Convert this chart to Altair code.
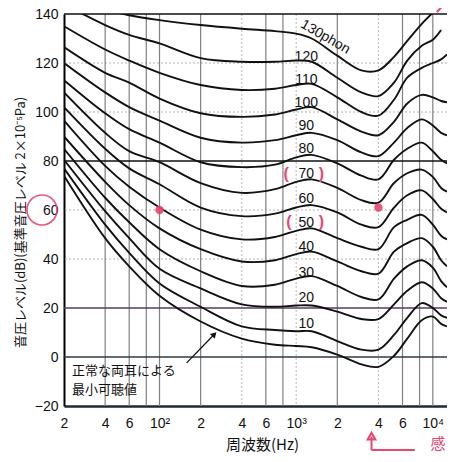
import altair as alt
import pandas as pd

# ---------------- data ----------------
freq = [20, 40, 60, 100, 200, 400, 700, 1000, 1300, 2000, 3000, 4000, 5200, 6500, 8300, 10000, 11500, 12700]

c_maf = [74, 48.5, 37, 25, 14.5, 7.5, 5, 4.5, 4, 1, -3, -4, 0.5, 7.5, 15, 16.5, 13.5, 12.5]
c10 = [77, 54, 42.5, 30, 20.5, 12.5, 11, 10.5, 10.5, 6.5, 3, 3, 9, 16, 22, 20, 17, 16]
c20 = [80.5, 59.5, 48.5, 36, 28, 21.5, 20.5, 21, 21, 18.5, 15.5, 15.5, 21.5, 27, 30.5, 28, 24, 22.5]
c30 = [85, 65, 55, 44, 35, 29, 29.5, 32, 33, 29, 24.5, 23.5, 32, 37, 39.5, 36.5, 31, 28.5]
c40 = [90, 71.5, 62, 52.5, 44, 39, 39.5, 42, 43, 39, 35, 34, 43, 46.5, 48.5, 45, 39.5, 37]
c50 = [96.5, 78, 69.5, 61, 52, 48, 49, 51.5, 52.5, 48.5, 45, 44, 53, 56, 58, 54, 49.5, 48]
c60 = [102, 85, 77, 70.5, 61, 57.5, 58.5, 61, 62, 59, 54, 53, 61, 66, 68, 64.5, 60.5, 59]
c70 = [108, 91.5, 84, 79.5, 71, 67, 68.5, 71.5, 72.5, 69, 64, 63, 71, 75, 76.5, 73.5, 69, 67.5]
c80 = [113, 99.5, 93, 87.5, 79.5, 77.5, 78.5, 81.5, 82.5, 79, 74, 72.5, 80.5, 85, 87.5, 84, 80.5, 79]
c90 = [120, 108, 102, 96.5, 89.5, 87.5, 88.5, 90.5, 91.5, 88.5, 83.5, 82, 87.5, 93.5, 97, 94.5, 91.5, 90.5]
c100 = [126.5, 116, 112, 105.5, 99.5, 98, 99, 101, 102, 97, 92, 90.5, 96, 103.5, 107, 106, 104.5, 104]
c110 = [135, 125.5, 121, 116, 111, 109, 109.5, 111, 111.5, 106, 100, 98.5, 105, 114, 118, 120, 121.5, 123.5]
c120 = [144, 135.5, 131.5, 128, 122, 120.5, 120.5, 121, 120.5, 114, 108, 106.5, 112, 121, 127, 129.5, 133.5, None]
c130 = [None, 142, 139.5, 137.5, 135.5, 134, 133, 132, 130, 123, 117, 117, 122.5, 129, 136, 140.5, None, None]

curves = {"0": c_maf, "10": c10, "20": c20, "30": c30, "40": c40, "50": c50, "60": c60,
          "70": c70, "80": c80, "90": c90, "100": c100, "110": c110, "120": c120, "130": c130}

# curve labels
label_text = ["120", "110", "100", "90", "80", "70", "60", "50", "40", "30", "20", "10"]
label_freq = [1186] * 12
label_db = [122.4, 113, 103.7, 94.3, 84.9, 74.7, 64.5, 54.7, 44.9, 34.3, 24.1, 13.5]
top_label = ["130phon"]
top_label_freq = [1633]
top_label_db = [130.6]

# axis ticks
x_tick_vals = [20, 40, 60, 100, 200, 400, 600, 1000, 2000, 4000, 6000, 10000]
x_tick_text = ["2", "4", "6", "10²", "2", "4", "6", "10³", "2", "4", "6", "10⁴"]
y_tick_vals = [-20, 0, 20, 40, 60, 80, 100, 120, 140]

# grid lines
v_solid = [40, 60, 80, 100, 200, 600, 800, 2000, 6000, 8000, 10000]
v_dotted = [400, 1000, 4000]
h_dotted = [120, 100, 60, 40]
h_black = [80, 140]
h_purple = [20]
h_slate = [0]

# annotation
note_lines = ["正常な両耳による", "最小可聴値"]
note_pos = (22.9, -5.6)
arrow_from = (158, -2.4)
arrow_to = (252, 9.3)

# handwritten red marks on the scan
red_dot_freq = [100, 4000]
red_dot_db = [60, 61]
red_paren_text = ["(", ")", "(", ")"]
red_paren_freq = [844, 1528, 886, 1528]
red_paren_db = [74.7, 74.7, 55.1, 55.1]
red_circle_freq = [13.8]
red_circle_db = [60]
red_stroke_f = [3560, 3560, 10690]
red_stroke_db = [-32.5, -38.0, 140.8]
red_stroke_f2 = [3560, 7380, 12700]
red_stroke_db2 = [-38.0, -38.0, 145.0]
red_head = (3560, -32.3)
red_char = ["感"]
red_char_pos = (10900, -35.4)

# ---------------- chart ----------------
label_expr = " : ".join(f"datum.value == {v} ? '{t}'" for v, t in zip(x_tick_vals, x_tick_text)) + " : ''"

X_SCALE = alt.Scale(type="log", domain=[20, 12700])
Y_SCALE = alt.Scale(domain=[-20, 140], nice=False)
X_AXIS = alt.Axis(values=x_tick_vals, labelExpr=label_expr, grid=False, ticks=False,
                  labelFont="Liberation Sans", labelFontSize=14, labelColor="#111",
                  labelPadding=10, labelFlush=False, labelOverlap=False,
                  domainColor="#1c2a33", domainWidth=2.5,
                  title="周波数(Hz)", titleFont="Noto Sans CJK JP", titleFontSize=15,
                  titleFontWeight="normal", titleColor="#111", titleX=198, titleY=31,
                  titleAlign="center", titleBaseline="top")
Y_AXIS = alt.Axis(values=y_tick_vals, grid=False, ticks=False,
                  labelFont="Liberation Sans", labelFontSize=14, labelColor="#111",
                  labelPadding=6, labelFlush=False, labelOverlap=False,
                  domainColor="#000", domainWidth=2,
                  title="音圧レベル(dB)(基準音圧レベル 2×10⁻⁵Pa)", titleFont="Noto Sans CJK JP",
                  titleFontSize=13, titleFontWeight="normal", titleColor="#111",
                  titleX=-37, titleY=208, titleAngle=-90, titleAlign="center")


def X(field="f"):
    return alt.X(f"{field}:Q", scale=X_SCALE, axis=X_AXIS)


def Y(field="db"):
    return alt.Y(f"{field}:Q", scale=Y_SCALE, axis=Y_AXIS)


rows = []
for phon, vals in curves.items():
    for f, v in zip(freq, vals):
        if v is not None:
            rows.append({"f": f, "db": v, "phon": int(phon)})
curve_df = pd.DataFrame(rows)

base_y = lambda vals: pd.DataFrame({"db": vals})
base_x = lambda vals: pd.DataFrame({"f": vals})

h_dot = alt.Chart(base_y(h_dotted)).mark_rule(color="#b4b4b4", strokeWidth=1, strokeDash=[2, 2]).encode(y=Y())
h_blk = alt.Chart(base_y(h_black)).mark_rule(color="#111", strokeWidth=1.4).encode(y=Y())
h_pur = alt.Chart(base_y(h_purple)).mark_rule(color="#5a3a66", strokeWidth=1.3).encode(y=Y())
h_sla = alt.Chart(base_y(h_slate)).mark_rule(color="#2c3b44", strokeWidth=1.3).encode(y=Y())
v_sol = alt.Chart(base_x(v_solid)).mark_rule(color="#808080", strokeWidth=1.2).encode(x=X())
v_dot = alt.Chart(base_x(v_dotted)).mark_rule(color="#b8b8b8", strokeWidth=1, strokeDash=[2, 2]).encode(x=X())

lines = alt.Chart(curve_df).mark_line(color="#111", strokeWidth=1.9, interpolate="catmull-rom", clip=True).encode(
    x=X(), y=Y(), detail="phon:N", order="f:Q")

lab_df = pd.DataFrame({"f": label_freq, "db": label_db, "t": label_text})
labels = alt.Chart(lab_df).mark_text(font="Liberation Sans", fontSize=14, color="#111",
                                     align="center", baseline="middle").encode(x=X(), y=Y(), text="t:N")
top_df = pd.DataFrame({"f": top_label_freq, "db": top_label_db, "t": top_label})
top_lab = alt.Chart(top_df).mark_text(font="Liberation Sans", fontSize=14, color="#111", angle=30,
                                      align="center", baseline="middle").encode(x=X(), y=Y(), text="t:N")

note_df = pd.DataFrame({"f": [note_pos[0]], "db": [note_pos[1]]})
note = alt.Chart(note_df).mark_text(font="Noto Sans CJK JP", fontSize=13, color="#111", lineHeight=19,
                                    align="left", baseline="middle").encode(
    x=X(), y=Y(), text=alt.value(note_lines))
arr_df = pd.DataFrame({"f": [arrow_from[0]], "db": [arrow_from[1]], "f2": [arrow_to[0]], "db2": [arrow_to[1]]})
arrow = alt.Chart(arr_df).mark_rule(color="#111", strokeWidth=1.3).encode(
    x=X(), y=Y(), x2="f2:Q", y2="db2:Q")
head = alt.Chart(pd.DataFrame({"f": [arrow_to[0]], "db": [arrow_to[1]]})).mark_point(
    shape="triangle-up", angle=44, size=45, filled=True, color="#111", opacity=1).encode(x=X(), y=Y())

red = "#e8466f"
red_dots = alt.Chart(pd.DataFrame({"f": red_dot_freq, "db": red_dot_db})).mark_point(
    shape="circle", size=70, filled=True, color=red, opacity=0.9).encode(x=X(), y=Y())
red_par = alt.Chart(pd.DataFrame({"f": red_paren_freq, "db": red_paren_db, "t": red_paren_text})).mark_text(
    fontSize=16, color=red, font="Liberation Sans", fontWeight="bold", align="center", baseline="middle").encode(
    x=X(), y=Y(), text="t:N")
red_circ = alt.Chart(pd.DataFrame({"f": red_circle_freq, "db": red_circle_db})).mark_point(
    shape="circle", size=900, filled=False, color=red, strokeWidth=1.6, opacity=0.9).encode(x=X(), y=Y())
red_strokes = alt.Chart(pd.DataFrame({"f": red_stroke_f, "db": red_stroke_db,
                                      "f2": red_stroke_f2, "db2": red_stroke_db2})).mark_rule(
    color=red, strokeWidth=2).encode(x=X(), y=Y(), x2="f2:Q", y2="db2:Q")
red_arrowhead = alt.Chart(pd.DataFrame({"f": [red_head[0]], "db": [red_head[1]]})).mark_point(
    shape="triangle-up", size=60, filled=False, color=red, strokeWidth=2, opacity=1).encode(x=X(), y=Y())
red_kanji = alt.Chart(pd.DataFrame({"f": [red_char_pos[0]], "db": [red_char_pos[1]], "t": red_char})).mark_text(
    font="Noto Sans CJK JP", fontSize=15, color=red, align="center", baseline="middle").encode(
    x=X(), y=Y(), text="t:N")

chart = alt.layer(
    h_dot, v_sol, v_dot, h_pur, h_sla, h_blk,
    lines, labels, top_lab, note, arrow, head,
    red_dots, red_par, red_circ, red_strokes, red_arrowhead, red_kanji,
).properties(
    width=383, height=392,
    autosize=alt.AutoSizeParams(type="none"),
    padding={"left": 56, "top": 6, "right": 0, "bottom": 48},
    background="white",
).configure_view(stroke=None)

chart.save("out.html", embed_options={"renderer": "svg", "actions": False})
